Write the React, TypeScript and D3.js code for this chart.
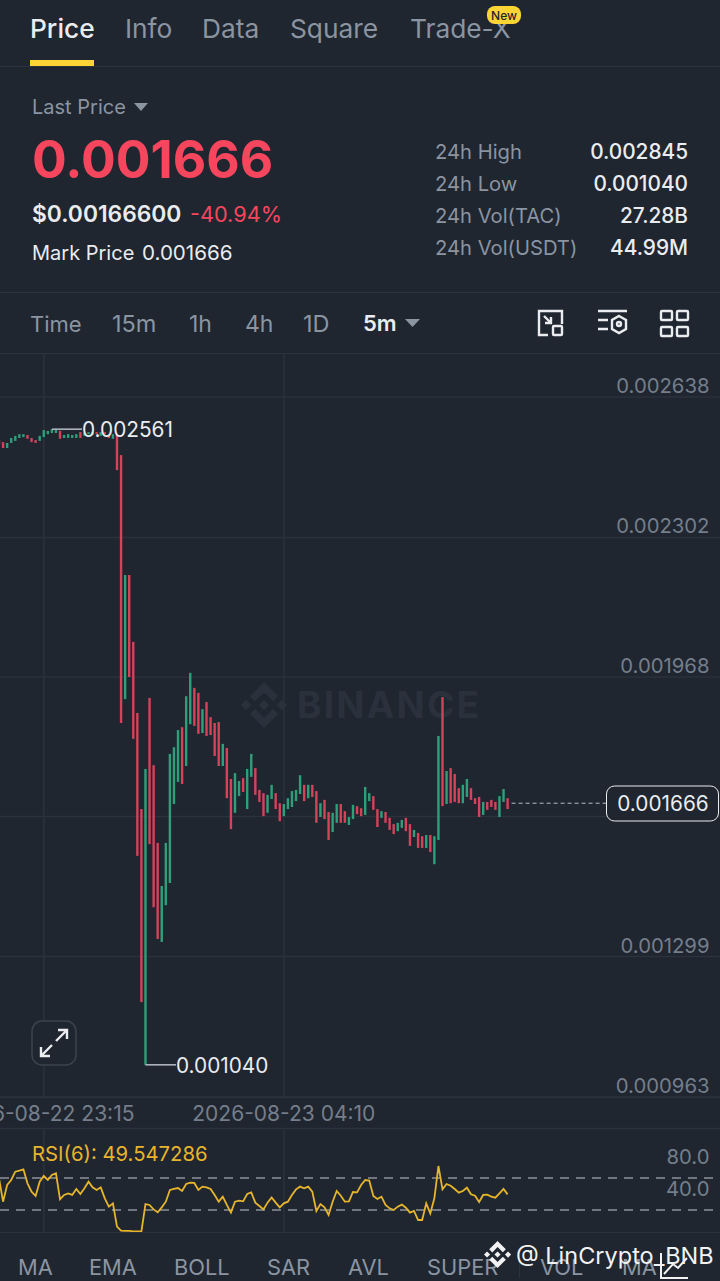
import React from "react";
import * as d3 from "d3";

const BG = "#1f2630";
const GRID = "#2b323c";
const MUTED = "#8b94a1";
const AXIS = "#757e8a";
const TEXT = "#eaecef";
const RED = "#d5425a";
const GREEN = "#2f9f7a";
const YELLOW = "#e6b52c";
const FONT = "Inter, 'Noto Sans', sans-serif";

const BINANCE_PATH = "M16.624 13.9202l2.7175 2.7154-7.353 7.353-7.353-7.352 2.7175-2.7164 4.6355 4.6595 4.6356-4.6595zm4.6366-4.6366L24 12l-2.7154 2.7164L18.5682 12l2.6924-2.7164zm-9.272.001l2.7163 2.6914-2.7164 2.7174v-.001L9.2721 12l2.7164-2.7154zm-9.2722-.001L5.4088 12l-2.6914 2.6924L0 12l2.7164-2.7164zM11.9885.0115l7.353 7.329-2.7174 2.7154-4.6356-4.6356-4.6355 4.6595-2.7174-2.7154 7.353-7.353z";

// prices in millionths, one per 5m candle
const opens = [
  2535, 2530, 2516, 2528, 2533, 2540, 2542, 2547, 2540, 2535,
  2533, 2542, 2549, 2552, 2552, 2557, 2540, 2540, 2540, 2540,
  2554, 2545, 2549, 2547, 2554, 2545, 2554, 2547, 2538, 2547,
  2499, 1915, 2212, 2052, 1882, 1652, 1040, 1918, 1757, 1571,
  1334, 1422, 1475, 1664, 1717, 1848, 1755, 1855, 1942, 1930,
  1834, 1908, 1872, 1858, 1860, 1755, 1798, 1724, 1643, 1683,
  1726, 1652, 1729, 1750, 1698, 1690, 1643, 1676, 1690, 1666,
  1635, 1652, 1657, 1671, 1688, 1710, 1678, 1710, 1695, 1633,
  1674, 1645, 1597, 1619, 1664, 1647, 1614, 1628, 1659, 1654,
  1638, 1671, 1683, 1652, 1631, 1645, 1631, 1616, 1599, 1607,
  1631, 1616, 1585, 1595, 1587, 1559, 1590, 1520, 1578, 1920,
  1664, 1750, 1736, 1702, 1666, 1681, 1702, 1678, 1681, 1638,
  1669, 1674, 1669, 1633, 1669, 1678,
];
const closes = [
  2525, 2516, 2528, 2540, 2545, 2549, 2549, 2538, 2530, 2528,
  2545, 2559, 2557, 2561, 2559, 2538, 2547, 2549, 2547, 2549,
  2540, 2552, 2554, 2554, 2549, 2554, 2549, 2540, 2549, 2463,
  1858, 2212, 1968, 1820, 1540, 1190, 1748, 1568, 1417, 1341,
  1468, 1571, 1784, 1800, 1841, 1712, 1922, 1978, 1851, 1832,
  1891, 1827, 1829, 1779, 1755, 1808, 1678, 1604, 1738, 1719,
  1693, 1748, 1784, 1686, 1669, 1635, 1686, 1710, 1652, 1623,
  1664, 1678, 1695, 1698, 1733, 1671, 1710, 1681, 1619, 1666,
  1628, 1578, 1643, 1664, 1619, 1619, 1633, 1662, 1640, 1635,
  1705, 1690, 1650, 1609, 1647, 1619, 1602, 1592, 1619, 1626,
  1599, 1564, 1602, 1559, 1559, 1590, 1549, 1587, 1827, 1659,
  1743, 1666, 1669, 1666, 1710, 1724, 1674, 1664, 1633, 1669,
  1650, 1657, 1650, 1683, 1700, 1652,
];
const rsiValues = [
  69.6, 40.4, 61.3, 67.5, 77.9, 79.2, 80.8, 63.3, 52.9, 47.5,
  65.4, 72.5, 67.5, 73.8, 75.8, 43.3, 48.8, 50.8, 48.8, 56.3,
  50, 57.1, 65.4, 58.3, 55, 58.3, 44.6, 34.2, 38.3, 9.2,
  4.2, 3.8, 3.8, 3.3, 3.3, 3.3, 37.5, 36.3, 30.8, 27.1,
  33.3, 40.4, 55, 56.3, 57.5, 53.8, 62.5, 64.2, 63.8, 55,
  59.2, 58.3, 56.3, 48.8, 40.4, 46.7, 36.3, 26.7, 40.4, 41.7,
  40.8, 50, 52.1, 39.2, 35, 30.8, 39.2, 45.8, 39.2, 33.3,
  38.3, 40.4, 48.8, 55.8, 59.2, 57.1, 59.2, 52.9, 28.8, 37.5,
  33.3, 23.8, 40.4, 53.8, 47.9, 40.4, 40.8, 52.5, 52.1, 61.3,
  67.5, 66.7, 47.5, 43.8, 46.7, 36.3, 32.1, 30, 34.2, 36.7,
  32.9, 26.7, 28.8, 17.5, 17.5, 38.3, 25.8, 44.6, 85, 55.8,
  62.5, 60.4, 56.3, 51.7, 53.8, 57.9, 49.6, 47.9, 40, 48.8,
  49.2, 46.7, 45.4, 50.8, 56.3, 49.5,
];

const priceTicks = [2638, 2302, 1968, 1634, 1299, 963];
const lastPrice = 1666;
const rsiBands = [70, 30];
const rsiTicks = [80, 40];
const startTime = new Date(2026, 7, 22, 22, 20);
const timeTicks = [new Date(2026, 7, 22, 23, 15), new Date(2026, 7, 23, 4, 10)];

const tabs = [["Price", 30], ["Info", 125], ["Data", 202], ["Square", 290], ["Trade-X", 410]] as const;
const intervals = [["Time", 30, 22], ["15m", 112, 23.5], ["1h", 189, 23], ["4h", 245, 23], ["1D", 303, 23.5]] as const;
const stats = [["24h High", "0.002845"], ["24h Low", "0.001040"], ["24h Vol(TAC)", "27.28B"], ["24h Vol(USDT)", "44.99M"]];
const indicators = [["MA", 18], ["EMA", 89], ["BOLL", 174], ["SAR", 267], ["AVL", 348], ["SUPER", 427], ["VOL", 540], ["MA", 622]] as const;

const fmtPrice = (v: number) => (v / 1e6).toFixed(6);
const fmtTime = d3.timeFormat("%Y-%m-%d %H:%M");
const candleTime = (i: number) => d3.timeMinute.offset(startTime, i * 5);

export default function App() {
  const x = d3.scaleTime().domain([candleTime(0), candleTime(opens.length - 1)]).range([-1, 507.6]);
  const y = d3.scaleLinear().domain([963, 2638]).range([1097, 397]);
  const yRsi = d3.scaleLinear().domain([30, 70]).range([1210, 1178]);

  const rsiLine = d3.line<number>().x((_, i) => x(candleTime(i))).y(d => yRsi(d));

  const tops = opens.map((o, i) => Math.max(o, closes[i]));
  const bottoms = opens.map((o, i) => Math.min(o, closes[i]));
  const highIdx = d3.greatestIndex(tops) as number;
  const lowIdx = d3.leastIndex(bottoms) as number;
  const highVal = tops[highIdx];
  const lowVal = bottoms[lowIdx];

  return (
    <div style={{ position: "absolute", left: 0, top: 0, width: 720, height: 1281, overflow: "hidden" }}>
      <svg width={720} height={1281} style={{ display: "block", fontFamily: FONT }}>
        <rect width={720} height={1281} fill={BG} />

        {/* tabs */}
        {tabs.map(([t, tx], i) => (
          <text key={t} x={tx} y={38} fontSize={26.3} fontWeight={i === 0 ? 500 : 400} fill={i === 0 ? TEXT : MUTED}>{t}</text>
        ))}
        <rect x={487} y={6} width={34} height={18} rx={8} fill="#fcd535" />
        <text x={504} y={19.5} fontSize={12} fontWeight={500} fill="#1e2329" textAnchor="middle">New</text>
        <rect x={30} y={60} width={64} height={6} fill="#fcd535" />
        <line x1={0} x2={720} y1={66.5} y2={66.5} stroke={GRID} />

        {/* header */}
        <text x={32} y={114} fontSize={20} fill={MUTED}>Last Price</text>
        <path d="M134 103h14l-7 8z" fill={MUTED} />
        <text x={32} y={178} fontSize={51.6} fontWeight={700} fill="#f6465d">0.001666</text>
        <text x={32} y={222} fontSize={22.8} fontWeight={600} fill={TEXT}>$0.00166600</text>
        <text x={190} y={222} fontSize={21.7} fill="#f6465d">-40.94%</text>
        <text x={32} y={260} fontSize={20} fill={TEXT}>Mark Price</text>
        <text x={142} y={260} fontSize={20.6} fill={TEXT}>0.001666</text>
        {stats.map(([label, val], i) => (
          <g key={label}>
            <text x={435} y={159 + i * 32} fontSize={20.2} fill={MUTED}>{label}</text>
            <text x={688} y={159 + i * 32} fontSize={20.8} fontWeight={500} fill={TEXT} textAnchor="end">{val}</text>
          </g>
        ))}
        <line x1={0} x2={720} y1={292.5} y2={292.5} stroke={GRID} />

        {/* interval bar */}
        {intervals.map(([t, tx, size]) => (
          <text key={t} x={tx} y={332} fontSize={size} fill={MUTED}>{t}</text>
        ))}
        <text x={363} y={331} fontSize={22} fontWeight={600} fill={TEXT}>5m</text>
        <path d="M405 319h15l-7.5 8z" fill={MUTED} />
        <g fill="none" stroke={TEXT} strokeWidth={2.4}>
          <path d="M539 330v-19h23v13M539 330v5h9" />
          <path d="M544 316l7 7M551 317v6h-6" />
          <rect x={553} y={326} width={9} height={9} rx={1} />
          <path d="M598 311h29M598 320h10M598 329h10" />
          <path d="M619 316l7 4v9l-7 4-7-4v-9z" />
          <circle cx={619} cy={324} r={2} />
          {[661, 677].map(ix => [311, 327].map(iy => (
            <rect key={`${ix}-${iy}`} x={ix} y={iy} width={11} height={9} rx={1} />
          )))}
        </g>
        <line x1={0} x2={720} y1={353.5} y2={353.5} stroke={GRID} />

        {/* grid */}
        {priceTicks.map(v => (
          <line key={v} x1={0} x2={720} y1={y(v)} y2={y(v)} stroke={GRID} strokeWidth={1.5} />
        ))}
        {timeTicks.map(t => (
          <g key={t.getTime()}>
            <line x1={x(t)} x2={x(t)} y1={354} y2={1097} stroke={GRID} strokeWidth={1.5} />
            <line x1={x(t)} x2={x(t)} y1={1129} y2={1232} stroke={GRID} strokeWidth={1.5} />
          </g>
        ))}

        {/* watermark */}
        <path d={BINANCE_PATH} transform="translate(241 682) scale(1.92)" fill="#2a313c" />
        <text x={297} y={718} fontSize={37} fontWeight={700} letterSpacing={2.2} fill="#2a313c">BINANCE</text>

        {/* candles */}
        {opens.map((o, i) => (
          <rect
            key={i}
            x={x(candleTime(i)) - 1.2}
            y={y(tops[i])}
            width={2.4}
            height={Math.max(1, y(bottoms[i]) - y(tops[i]))}
            fill={closes[i] >= o ? GREEN : RED}
          />
        ))}

        {/* high / low markers */}
        <line x1={x(candleTime(highIdx))} x2={82} y1={y(highVal)} y2={y(highVal)} stroke="#b7bdc6" strokeWidth={1.5} />
        <text x={82} y={437} fontSize={20.8} fill={TEXT}>{fmtPrice(highVal)}</text>
        <line x1={x(candleTime(lowIdx))} x2={176} y1={y(lowVal)} y2={y(lowVal)} stroke="#b7bdc6" strokeWidth={1.5} />
        <text x={176} y={1073} fontSize={20.8} fill={TEXT}>{fmtPrice(lowVal)}</text>

        {/* price axis */}
        {priceTicks.filter(v => Math.abs(y(v) - y(lastPrice)) > 20).map(v => (
          <text key={v} x={709.5} y={y(v) - 4} fontSize={20.3} fill={AXIS} textAnchor="end">{fmtPrice(v)}</text>
        ))}
        <line x1={x(candleTime(opens.length - 1)) + 4} x2={606} y1={y(lastPrice)} y2={y(lastPrice)} stroke="#b7bdc6" strokeDasharray="4 3" />
        <rect x={606.5} y={786} width={112} height={35} rx={8} fill={BG} stroke={TEXT} />
        <text x={663} y={811} fontSize={20.8} fill={TEXT} textAnchor="middle">{fmtPrice(lastPrice)}</text>

        {/* expand button */}
        <rect x={32} y={1021} width={44} height={44} rx={10} fill={BG} stroke="#3c434e" strokeWidth={1.5} />
        <path d="M56 1041l11-11M58 1030h9v9M41 1056l11-11M41 1047v9h9" fill="none" stroke={TEXT} strokeWidth={2.4} />

        {/* time axis */}
        <line x1={0} x2={720} y1={1097.5} y2={1097.5} stroke={GRID} strokeWidth={1.5} />
        {timeTicks.map(t => (
          <text key={t.getTime()} x={x(t)} y={1121} fontSize={21} fill={AXIS} textAnchor="middle">{fmtTime(t)}</text>
        ))}
        <line x1={0} x2={720} y1={1128.5} y2={1128.5} stroke={GRID} strokeWidth={1.5} />

        {/* RSI */}
        <text x={32} y={1161} fontSize={20.3} fill={YELLOW}>RSI(6): 49.547286</text>
        {rsiBands.map(b => (
          <line key={b} x1={0} x2={720} y1={yRsi(b)} y2={yRsi(b)} stroke="#8d939c" strokeWidth={1.5} strokeDasharray="9 7" />
        ))}
        <path d={rsiLine(rsiValues) ?? ""} fill="none" stroke={YELLOW} strokeWidth={1.8} />
        {rsiTicks.map(v => (
          <text key={v} x={709.5} y={yRsi(v) - 6} fontSize={20.3} fill={AXIS} textAnchor="end">{v.toFixed(1)}</text>
        ))}
        <line x1={0} x2={720} y1={1232.5} y2={1232.5} stroke={GRID} />

        {/* indicator tabs */}
        {indicators.map(([t, tx], i) => (
          <text key={i} x={tx} y={1275} fontSize={21.8} fill={MUTED}>{t}</text>
        ))}
        <line x1={519.5} x2={519.5} y1={1258} y2={1278} stroke={GRID} />

        {/* author watermark */}
        <path d={BINANCE_PATH} transform="translate(484 1241) scale(1.13)" fill="#f2f2f2" />
        <text x={516} y={1264} fontSize={23.5} fill="#f2f2f2">@ LinCrypto_BNB</text>
        <path d="M661 1253v25h27M664 1274l9-10 5 4 9-10" fill="none" stroke="#f2f2f2" strokeWidth={2} />
      </svg>
    </div>
  );
}
